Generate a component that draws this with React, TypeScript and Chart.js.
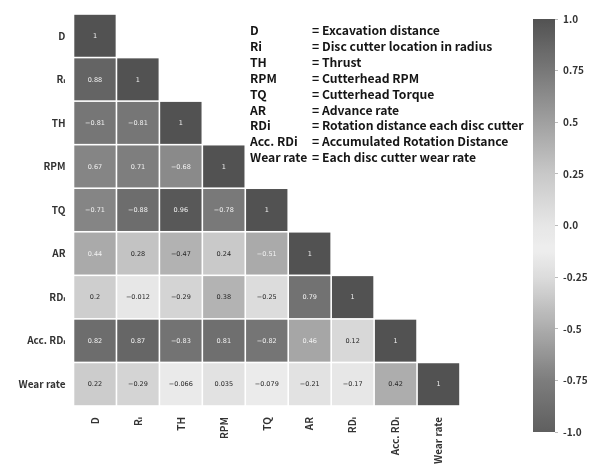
import React, { useEffect, useRef } from "react";
import { Chart, registerables } from "chart.js";

Chart.register(...registerables);

// Variables of the correlation matrix (rows top → bottom, columns left → right)
const variables = ["D", "Rᵢ", "TH", "RPM", "TQ", "AR", "RDᵢ", "Acc. RDᵢ", "Wear rate"];

// Lower-triangle correlation rows: row i holds r(var_i, var_0..var_i)
const rowD = [1];
const rowRi = [0.88, 1];
const rowTH = [-0.81, -0.81, 1];
const rowRPM = [0.67, 0.71, -0.68, 1];
const rowTQ = [-0.71, -0.88, 0.96, -0.78, 1];
const rowAR = [0.44, 0.28, -0.47, 0.24, -0.51, 1];
const rowRDi = [0.2, -0.012, -0.29, 0.38, -0.25, 0.79, 1];
const rowAccRDi = [0.82, 0.87, -0.83, 0.81, -0.82, 0.46, 0.12, 1];
const rowWear = [0.22, -0.29, -0.066, 0.035, -0.079, -0.21, -0.17, 0.42, 1];

const corrRows = [rowD, rowRi, rowTH, rowRPM, rowTQ, rowAR, rowRDi, rowAccRDi, rowWear];

// Colour bar ticks
const colorbarTicks = [1, 0.75, 0.5, 0.25, 0, -0.25, -0.5, -0.75, -1];
const colorbarTickLabels = ["1.0", "0.75", "0.5", "0.25", "0.0", "-0.25", "-0.5", "-0.75", "-1.0"];

// Abbreviation key
const legendTerms = ["D", "Ri", "TH", "RPM", "TQ", "AR", "RDi", "Acc. RDi", "Wear rate"];
const legendDescriptions = [
  "= Excavation distance",
  "= Disc cutter location in radius",
  "= Thrust",
  "= Cutterhead RPM",
  "= Cutterhead Torque",
  "= Advance rate",
  "= Rotation distance each disc cutter",
  "= Accumulated Rotation Distance",
  "= Each disc cutter wear rate",
];

// Diverging grey colormap: correlation value -> grey level
const GREY_STOPS: [number, number][] = [
  [-1, 95],
  [-0.75, 125],
  [-0.5, 172],
  [-0.25, 220],
  [-0.12, 238],
  [0, 230],
  [0.25, 200],
  [0.5, 160],
  [0.75, 120],
  [1, 82],
];

function greyLevel(v: number): number {
  if (v <= GREY_STOPS[0][0]) return GREY_STOPS[0][1];
  for (let k = 1; k < GREY_STOPS.length; k++) {
    const [v1, g1] = GREY_STOPS[k];
    const [v0, g0] = GREY_STOPS[k - 1];
    if (v <= v1) return Math.round(g0 + ((v - v0) / (v1 - v0)) * (g1 - g0));
  }
  return GREY_STOPS[GREY_STOPS.length - 1][1];
}

function greyColor(v: number): string {
  const g = greyLevel(v);
  return `rgb(${g},${g},${g})`;
}

// two significant digits, like the ".2g" format
function formatCorr(v: number): string {
  return String(Number(v.toPrecision(2))).replace("-", "−");
}

const TICK_FONT = "'Noto Sans CJK KR', 'DejaVu Sans', sans-serif";

const heatmapCells = {
  id: "heatmapCells",
  afterDatasetsDraw(chart: any) {
    const { ctx } = chart;
    const xs = chart.scales.x;
    const ys = chart.scales.y;
    const cw = Math.abs(xs.getPixelForValue(1) - xs.getPixelForValue(0));
    const ch = Math.abs(ys.getPixelForValue(1) - ys.getPixelForValue(0));
    const gap = 0.8;
    ctx.save();
    ctx.font = "6.5px 'DejaVu Sans', sans-serif";
    ctx.textAlign = "center";
    ctx.textBaseline = "middle";
    corrRows.forEach((row, i) => {
      row.forEach((v, j) => {
        const cx = xs.getPixelForValue(j);
        const cy = ys.getPixelForValue(i);
        ctx.fillStyle = greyColor(v);
        ctx.fillRect(cx - cw / 2 + gap, cy - ch / 2 + gap, cw - 2 * gap, ch - 2 * gap);
        ctx.fillStyle = greyLevel(v) < 172 ? "#f2f2f2" : "#262626";
        ctx.fillText(formatCorr(v), cx, cy + 0.5);
      });
    });
    ctx.restore();
  },
};

const colorbarFill = {
  id: "colorbarFill",
  beforeDatasetsDraw(chart: any) {
    const { ctx, chartArea } = chart;
    const ys = chart.scales.y;
    const grad = ctx.createLinearGradient(0, chartArea.top, 0, chartArea.bottom);
    for (let k = 0; k <= 80; k++) {
      const v = -1 + k * 0.025;
      const pos = (ys.getPixelForValue(v) - chartArea.top) / (chartArea.bottom - chartArea.top);
      grad.addColorStop(Math.min(1, Math.max(0, pos)), greyColor(v));
    }
    ctx.save();
    ctx.fillStyle = grad;
    ctx.fillRect(chartArea.left, chartArea.top, chartArea.right - chartArea.left, chartArea.bottom - chartArea.top);
    ctx.restore();
  },
};

export default function App() {
  const heatRef = useRef<HTMLCanvasElement | null>(null);
  const barRef = useRef<HTMLCanvasElement | null>(null);

  useEffect(() => {
    const cells = corrRows.flatMap((row, i) =>
      row.map((v, j) => ({ x: variables[j], y: variables[i], v }))
    );

    const heat = new Chart(heatRef.current as HTMLCanvasElement, {
      type: "scatter",
      data: { datasets: [{ data: cells as any, pointRadius: 0, pointHoverRadius: 0 }] },
      options: {
        animation: false,
        responsive: false,
        events: [],
        layout: { padding: { left: 0, top: 8, right: 136, bottom: 0 } },
        plugins: { legend: { display: false }, tooltip: { enabled: false } },
        scales: {
          x: {
            type: "category",
            labels: variables,
            offset: true,
            position: "bottom",
            grid: { display: false, drawTicks: false },
            border: { display: false },
            ticks: {
              autoSkip: false,
              minRotation: 90,
              maxRotation: 90,
              padding: 11,
              color: "#333",
              font: { family: TICK_FONT, size: 10, weight: "bold" },
            },
            afterFit: (s: any) => {
              s.height = 62;
            },
          },
          y: {
            type: "category",
            labels: variables,
            offset: true,
            position: "left",
            grid: { display: false, drawTicks: false },
            border: { display: false },
            ticks: {
              autoSkip: false,
              padding: 8,
              color: "#333",
              font: { family: TICK_FONT, size: 10, weight: "bold" },
            },
            afterFit: (s: any) => {
              s.width = 73.5;
            },
          },
        },
      } as any,
      plugins: [heatmapCells],
    });

    const bar = new Chart(barRef.current as HTMLCanvasElement, {
      type: "scatter",
      data: { datasets: [] },
      options: {
        animation: false,
        responsive: false,
        events: [],
        layout: { padding: { left: 533, top: 19, right: 5, bottom: 36 } },
        plugins: { legend: { display: false }, tooltip: { enabled: false } },
        scales: {
          x: { type: "linear", display: false, min: 0, max: 1 },
          y: {
            type: "linear",
            position: "right",
            min: -1,
            max: 1,
            grid: { display: true, drawOnChartArea: false, drawTicks: true, tickLength: 3, color: "#bbb" },
            border: { display: false },
            afterBuildTicks: (s: any) => {
              s.ticks = colorbarTicks.map((value) => ({ value }));
            },
            ticks: {
              padding: 5,
              color: "#333",
              font: { family: TICK_FONT, size: 10, weight: "bold" },
              callback: (v: any) => colorbarTickLabels[colorbarTicks.indexOf(Number(v))],
            },
            afterFit: (s: any) => {
              s.width = 36;
            },
          },
        },
      } as any,
      plugins: [colorbarFill],
    });

    return () => {
      heat.destroy();
      bar.destroy();
    };
  }, []);

  const legendFont = "'Noto Sans CJK KR', 'DejaVu Sans', sans-serif";

  return (
    <div
      style={{
        position: "fixed",
        left: 0,
        top: 0,
        width: 596,
        height: 468,
        background: "#fff",
        overflow: "hidden",
      }}
    >
      <canvas
        ref={heatRef}
        width={596}
        height={468}
        style={{ position: "absolute", left: 0, top: 0, width: 596, height: 468 }}
      />
      <canvas
        ref={barRef}
        width={596}
        height={468}
        style={{ position: "absolute", left: 0, top: 0, width: 596, height: 468 }}
      />
      {legendTerms.map((term, i) => (
        <div
          key={term}
          style={{
            position: "absolute",
            left: 250,
            top: 22 + i * 15.9,
            height: 16,
            lineHeight: "16px",
            fontFamily: legendFont,
            fontWeight: 700,
            fontSize: 12.2,
            color: "#151515",
            whiteSpace: "nowrap",
          }}
        >
          <span style={{ display: "inline-block", width: 62 }}>{term}</span>
          <span>{legendDescriptions[i]}</span>
        </div>
      ))}
    </div>
  );
}
